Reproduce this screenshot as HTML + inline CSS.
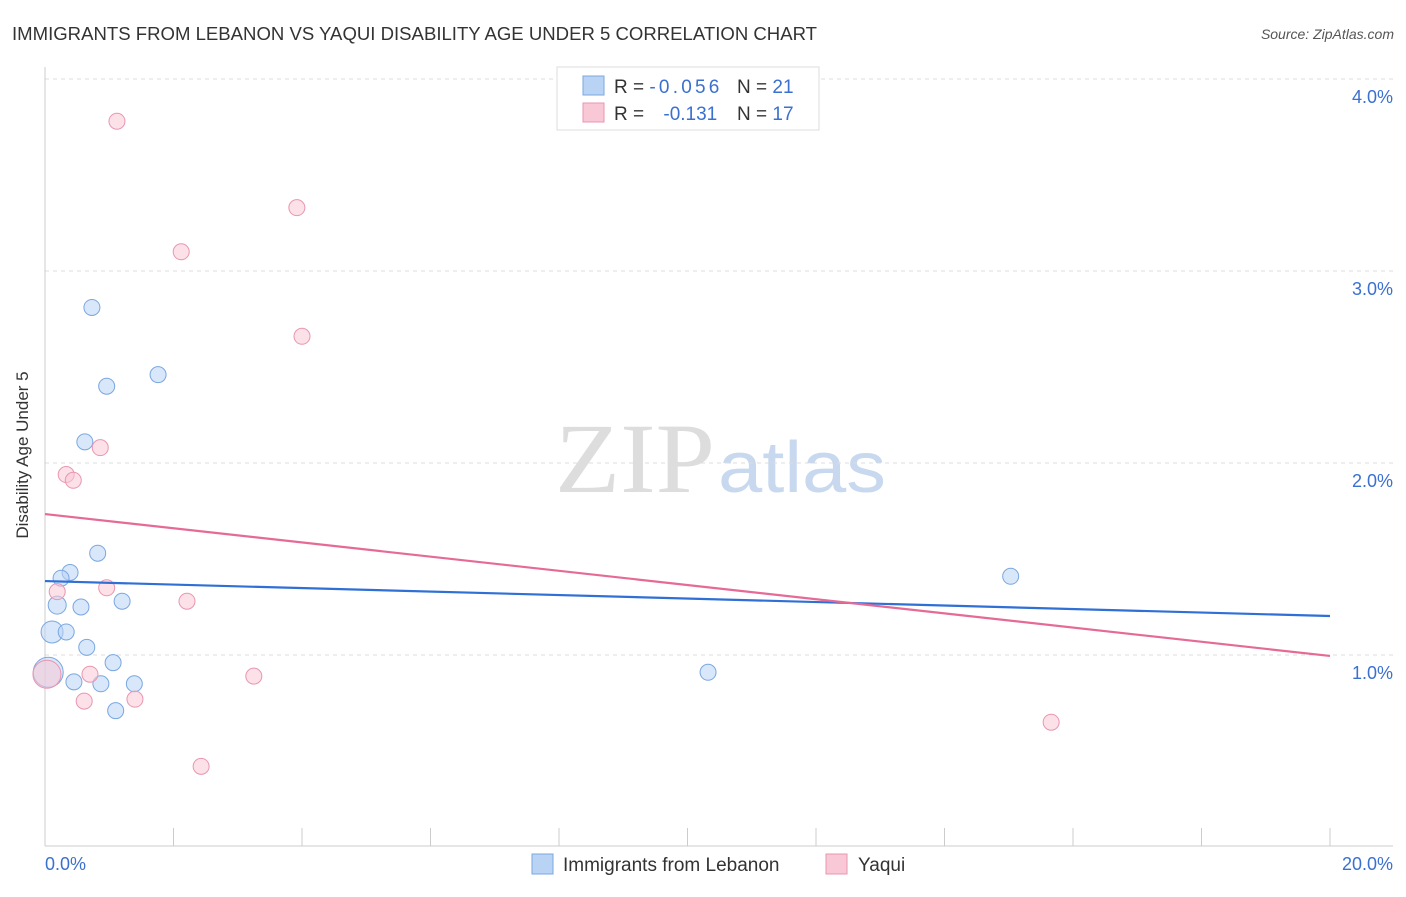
<!DOCTYPE html>
<html><head><meta charset="utf-8"><style>
body{margin:0;background:#fff;font-family:"Liberation Sans",sans-serif}
</style></head><body>
<svg width="1406" height="892" xmlns="http://www.w3.org/2000/svg" font-family="Liberation Sans, sans-serif">
<text x="12" y="40" font-size="18" fill="#333" textLength="805" lengthAdjust="spacingAndGlyphs">IMMIGRANTS FROM LEBANON VS YAQUI DISABILITY AGE UNDER 5 CORRELATION CHART</text>
<text x="1394" y="39" font-size="14" fill="#555" font-style="italic" text-anchor="end">Source: ZipAtlas.com</text>
<text x="555" y="492" font-size="100" fill="#ddd" textLength="160" lengthAdjust="spacingAndGlyphs" font-family="Liberation Serif, serif">ZIP</text>
<text x="718" y="492" font-size="72" fill="#c8d8ef" textLength="168" lengthAdjust="spacingAndGlyphs">atlas</text>
<g id="grid"></g>
<line x1="45" y1="67" x2="45" y2="846" stroke="#ccc"/>
<line x1="45" y1="846" x2="1393" y2="846" stroke="#ccc"/>
<g id="xticks"></g>
<text x="28" y="455" font-size="17" fill="#333" text-anchor="middle" transform="rotate(-90 28 455)">Disability Age Under 5</text>
<g id="points"></g>
<g id="trends"></g>
<g>
<rect x="557" y="67" width="262" height="63" fill="#fff" stroke="#ddd"/>
<rect x="583" y="76" width="21" height="19" fill="#b9d3f5" stroke="#7aa7e0"/>
<rect x="583" y="103" width="21" height="19" fill="#f9c8d6" stroke="#e996b0"/>
<text x="614" y="93" font-size="19" fill="#333">R = <tspan fill="#3a70d0" textLength="70">-0.056</tspan></text>
<text x="737" y="93" font-size="19" fill="#333">N = <tspan fill="#3a70d0">21</tspan></text>
<text x="614" y="120" font-size="19" fill="#333">R = <tspan fill="#3a70d0" dx="14">-0.131</tspan></text>
<text x="737" y="120" font-size="19" fill="#333">N = <tspan fill="#3a70d0">17</tspan></text>
</g>
<text x="45" y="870" font-size="18" fill="#3a70d0">0.0%</text>
<text x="1393" y="870" font-size="18" fill="#3a70d0" text-anchor="end">20.0%</text>
<g>
<rect x="532" y="854" width="21" height="20" fill="#b9d3f5" stroke="#7aa7e0"/>
<text x="563" y="871" font-size="19" fill="#333">Immigrants from Lebanon</text>
<rect x="826" y="854" width="21" height="20" fill="#f9c8d6" stroke="#e996b0"/>
<text x="858" y="871" font-size="19" fill="#333">Yaqui</text>
</g>
</svg>
<script>
const yTicks=[1,2,3,4];
const yTickLabels=["1.0%","2.0%","3.0%","4.0%"];
const blueX=[0.73,0.96,1.76,0.62,0.82,0.39,0.25,0.19,0.56,1.20,0.11,0.33,0.65,1.06,0.05,0.45,0.87,1.39,1.10,10.32,15.03];
const blueY=[2.81,2.40,2.46,2.11,1.53,1.43,1.40,1.26,1.25,1.28,1.12,1.12,1.04,0.96,0.91,0.86,0.85,0.85,0.71,0.91,1.41];
const blueR=[8,8,8,8,8,8,8,9,8,8,11,8,8,8,15,8,8,8,8,8,8];
const pinkX=[1.12,3.92,2.12,4.00,0.86,0.33,0.44,0.19,0.96,2.21,0.70,3.25,0.61,1.40,2.43,15.66,0.03];
const pinkY=[3.78,3.33,3.10,2.66,2.08,1.94,1.91,1.33,1.35,1.28,0.90,0.89,0.76,0.77,0.42,0.65,0.90];
const pinkR=[8,8,8,8,8,8,8,8,8,8,8,8,8,8,8,8,14];
const blueTrend=[1.385,1.203];
const pinkTrend=[1.734,0.995];
const xs=v=>45+v/20*1285, ys=v=>847-v*192;
const NS="http://www.w3.org/2000/svg";
function mk(t,a,p){const e=document.createElementNS(NS,t);for(const k in a)e.setAttribute(k,a[k]);p.appendChild(e);return e;}
const grid=document.getElementById('grid');
yTicks.forEach((t,i)=>{
 const l=mk('line',{x1:45,x2:1393,y1:ys(t),y2:ys(t),stroke:'#ddd','stroke-dasharray':'4,4'},grid);
 
 
 const tx=mk('text',{x:1393,y:ys(t)+24,'font-size':18,fill:'#3a70d0','text-anchor':'end'},grid);
 tx.textContent=yTickLabels[i];
 
 
});
const xt=document.getElementById('xticks');
for(let i=0;i<=10;i++){
 const l=mk('line',{x1:xs(i*2),x2:xs(i*2),y1:828,y2:846,stroke:'#ccc'},xt);
 
 
}
const pts=document.getElementById('points');
function series(X,Y,R,fill,stroke,name){
 X.forEach((x,i)=>{
  const c=mk('circle',{cx:xs(x),cy:ys(Y[i]),r:R[i],fill:fill,'fill-opacity':0.55,stroke:stroke,'stroke-width':1},pts);
  
  
 });
}
series(blueX,blueY,blueR,'#b9d3f5','#7aa7e0','lebanon-point');
series(pinkX,pinkY,pinkR,'#f9c8d6','#e996b0','yaqui-point');
const tr=document.getElementById('trends');
const b=mk('line',{x1:xs(0),x2:xs(20),y1:ys(blueTrend[0]),y2:ys(blueTrend[1]),stroke:'#2f6fd6','stroke-width':2.2},tr);


const p=mk('line',{x1:xs(0),x2:xs(20),y1:ys(pinkTrend[0]),y2:ys(pinkTrend[1]),stroke:'#e56a96','stroke-width':2.2},tr);


</script>
</body></html>
